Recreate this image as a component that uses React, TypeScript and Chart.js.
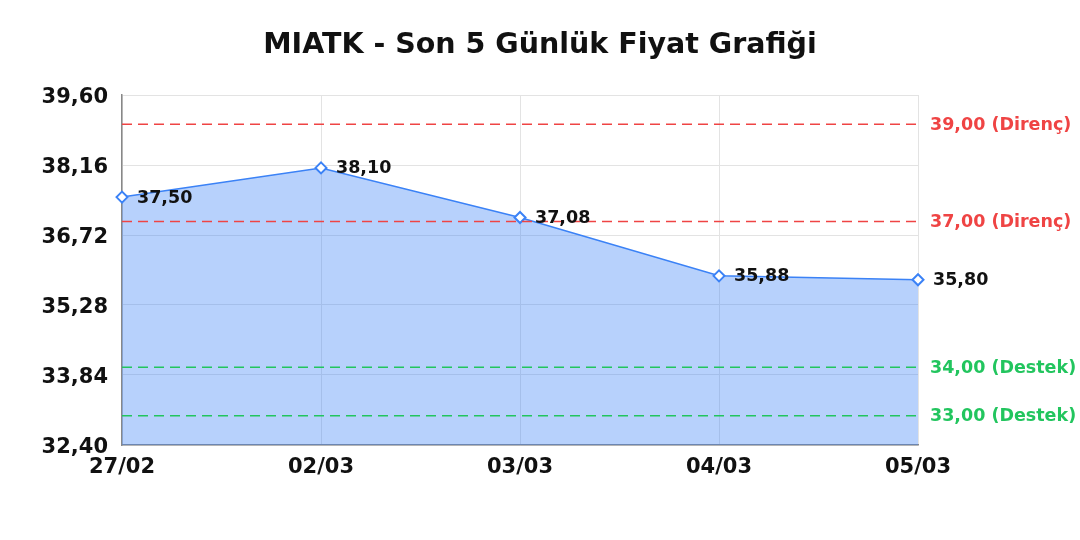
import { useEffect, useRef } from "react";
import { Chart, registerables } from "chart.js";

Chart.register(...registerables);

const labels = ["27/02", "02/03", "03/03", "04/03", "05/03"];
const prices = [37.5, 38.1, 37.08, 35.88, 35.8];
const yTicks = [32.4, 33.84, 35.28, 36.72, 38.16, 39.6];
const resistance = [39.0, 37.0];
const support = [34.0, 33.0];

const FONT = "'DejaVu Sans', sans-serif";
const TITLE = "MIATK - Son 5 Günlük Fiyat Grafiği";
const fmt = (v: number) => v.toFixed(2).replace(".", ",");

const levelsPlugin = {
  id: "levels",
  afterDraw(chart: any) {
    const { ctx, chartArea, scales, width } = chart;
    // title, centred on the whole canvas
    ctx.save();
    ctx.fillStyle = "#111";
    ctx.font = `bold 28.5px ${FONT}`;
    ctx.textAlign = "center";
    ctx.textBaseline = "middle";
    ctx.fillText(TITLE, width / 2, 46);
    ctx.restore();

    const y = scales.y;
    const draw = (v: number, color: string, txt: string) => {
      const py = y.getPixelForValue(v);
      ctx.save();
      ctx.strokeStyle = color;
      ctx.lineWidth = 1.5;
      ctx.setLineDash([10, 6]);
      ctx.beginPath();
      ctx.moveTo(chartArea.left, py);
      ctx.lineTo(chartArea.right, py);
      ctx.stroke();
      ctx.setLineDash([]);
      ctx.fillStyle = color;
      ctx.font = `bold 17.5px ${FONT}`;
      ctx.textAlign = "left";
      ctx.textBaseline = "middle";
      ctx.fillText(`${fmt(v)} (${txt})`, chartArea.right + 12, py + 1);
      ctx.restore();
    };
    resistance.forEach((v) => draw(v, "#ef4444", "Direnç"));
    support.forEach((v) => draw(v, "#22c55e", "Destek"));

    // point value labels
    const meta = chart.getDatasetMeta(0);
    ctx.save();
    ctx.fillStyle = "#111";
    ctx.font = `bold 17.5px ${FONT}`;
    ctx.textAlign = "left";
    ctx.textBaseline = "middle";
    meta.data.forEach((pt: any, i: number) => {
      ctx.fillText(fmt(prices[i]), pt.x + 15, pt.y + 1);
    });
    ctx.restore();
  },
};

export default function App() {
  const ref = useRef<HTMLCanvasElement | null>(null);

  useEffect(() => {
    const canvas = ref.current;
    if (!canvas) return;
    const chart = new Chart(canvas, {
      type: "line",
      data: {
        labels,
        datasets: [
          {
            data: prices,
            borderColor: "#3b82f6",
            borderWidth: 1.5,
            backgroundColor: "rgba(59,130,246,0.37)",
            fill: "start",
            tension: 0,
            pointStyle: "rectRot",
            pointRadius: 5.5,
            pointBorderWidth: 2,
            pointBackgroundColor: "#fff",
            pointBorderColor: "#3b82f6",
          },
        ],
      },
      options: {
        animation: false,
        responsive: true,
        maintainAspectRatio: false,
        layout: { padding: { left: 0, right: 162, top: 95, bottom: 0 } },
        plugins: {
          legend: { display: false },
          tooltip: { enabled: false },
          title: { display: false },
        },
        scales: {
          x: {
            offset: false,
            afterFit: (axis: any) => {
              axis.height = 95;
            },
            grid: { color: "#e3e3e3", drawTicks: false },
            border: { color: "#888", width: 1.5 },
            ticks: {
              color: "#111",
              font: { family: FONT, size: 21, weight: "bold" },
              padding: 10,
              maxRotation: 0,
            },
          },
          y: {
            min: 32.4,
            max: 39.6,
            afterBuildTicks: (axis: any) => {
              axis.ticks = yTicks.map((v) => ({ value: v }));
            },
            afterFit: (axis: any) => {
              axis.width = 122;
            },
            grid: { color: "#e3e3e3", drawTicks: false },
            border: { color: "#888", width: 1.5 },
            ticks: {
              color: "#111",
              font: { family: FONT, size: 21, weight: "bold" },
              padding: 14,
              labelOffset: 3,
              callback: (v: any) => fmt(Number(v)),
            },
          },
        },
      },
      plugins: [levelsPlugin],
    });
    return () => chart.destroy();
  }, []);

  return (
    <div style={{ position: "fixed", left: 0, top: 0, width: 1080, height: 540, background: "#fff" }}>
      <canvas ref={ref}></canvas>
    </div>
  );
}
